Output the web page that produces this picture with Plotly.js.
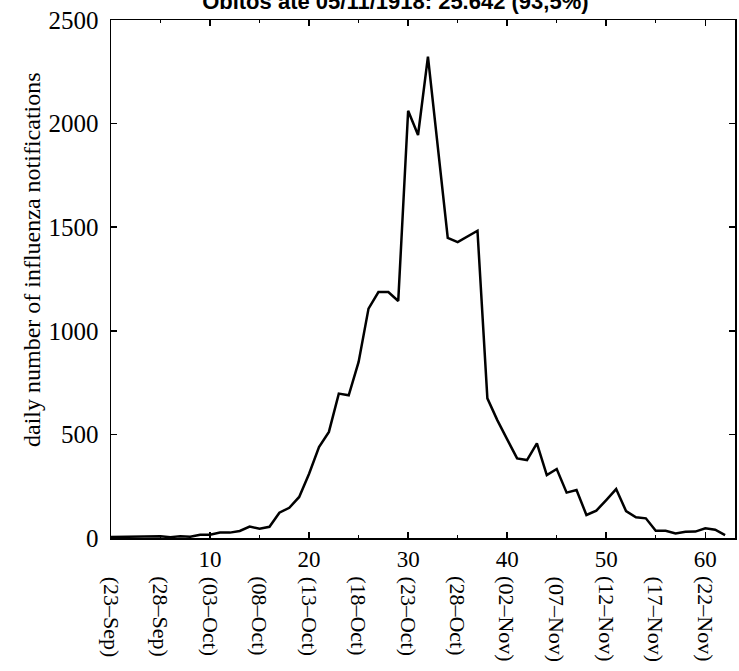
<!DOCTYPE html>
<html>
<head>
<meta charset="utf-8">
<script src="https://cdn.plot.ly/plotly-3.0.1.min.js"></script>
<style>html,body{margin:0;padding:0;background:#fff;}</style>
</head>
<body>
<div id="chart" style="width:739px;height:671px;"></div>
<script>
const days = [];
for (let i = 0; i <= 62; i++) days.push(i);
const notifications = [
  5, 5, 6, 7, 8, 8, 4, 9, 6, 16,
  16, 26, 26, 34, 55, 45, 54, 122, 146, 198,
  310, 439, 512, 697, 689, 850, 1107, 1187, 1187, 1144,
  2062, 1945, 2323, 1880, 1448, 1428, 1454, 1483, 674, 569,
  476, 384, 376, 457, 304, 333, 219, 232, 111, 132,
  183, 236, 130, 100, 95, 35, 35, 22, 30, 31,
  47, 40, 14
];
const numberTicks = [10, 20, 30, 40, 50, 60];
const datePositions = [0, 5, 10, 15, 20, 25, 30, 35, 40, 45, 50, 55, 60];
const dateLabels = ['(23\u2013Sep)', '(28\u2013Sep)', '(03\u2013Oct)', '(08\u2013Oct)', '(13\u2013Oct)', '(18\u2013Oct)',
  '(23\u2013Oct)', '(28\u2013Oct)', '(02\u2013Nov)', '(07\u2013Nov)', '(12\u2013Nov)', '(17\u2013Nov)', '(22\u2013Nov)'];
const yTicks = [0, 500, 1000, 1500, 2000, 2500];
const titleText = '\u00d3bitos at\u00e9 05/11/1918: 25.642 (93,5%)';
const yTitle = 'daily number of influenza notifications';

const serif = 'Liberation Serif, Times New Roman, serif';

const annotations = datePositions.map((p, i) => ({
  x: p, xref: 'x', y: -0.07, yref: 'paper',
  text: dateLabels[i], showarrow: false, textangle: 90,
  xanchor: 'center', yanchor: 'top',
  font: {family: serif, size: 22, color: '#000'}
}));
annotations.push({
  x: 32, xref: 'paper', xanchor: 'center', xshift: 0,
  y: 0.5, yref: 'paper', yanchor: 'middle', yshift: 19,
  text: yTitle, showarrow: false, textangle: -90,
  font: {family: serif, size: 24, color: '#000'}
});
// place y title by pixel: convert 32px from left into paper coords below
annotations[annotations.length - 1].x = (32 - 111) / (739 - 111 - 4);

const trace = {
  x: days, y: notifications, type: 'scatter', mode: 'lines',
  line: {color: '#000', width: 2.5},
  hoverinfo: 'x+y'
};

const layout = {
  width: 739, height: 671,
  margin: {l: 111, r: 4, t: 20, b: 133},
  paper_bgcolor: '#fff', plot_bgcolor: '#fff',
  showlegend: false,
  title: {
    text: '<b>' + titleText + '</b>',
    font: {family: 'Liberation Sans, Arial, sans-serif', size: 22, color: '#000'},
    xref: 'container', x: 0.535, xanchor: 'center',
    yref: 'container', y: 0.998, yanchor: 'middle'
  },
  xaxis: {
    range: [0, 63], showgrid: false, zeroline: false,
    showline: true, linecolor: '#000', linewidth: 1.5, mirror: 'ticks',
    ticks: 'inside', ticklen: 6, tickwidth: 1.5, tickcolor: '#000',
    tickvals: numberTicks, ticktext: numberTicks.map(String),
    minor: {tickvals: [5, 15, 25, 35, 45, 55], ticks: 'inside', ticklen: 3, tickwidth: 1.2, tickcolor: '#000'},
    tickfont: {family: serif, size: 23, color: '#000'}
  },
  yaxis: {
    range: [0, 2500], showgrid: false, zeroline: false,
    showline: true, linecolor: '#000', linewidth: 1.5, mirror: 'ticks',
    ticks: 'inside', ticklen: 6, tickwidth: 1.5, tickcolor: '#000',
    tickvals: yTicks, ticktext: yTicks.map(String),
    ticklabelstandoff: 6,
    tickfont: {family: serif, size: 25, color: '#000'}
  },
  annotations: annotations
};

Plotly.newPlot('chart', [trace], layout, {displayModeBar: false, staticPlot: true});
</script>
</body>
</html>
